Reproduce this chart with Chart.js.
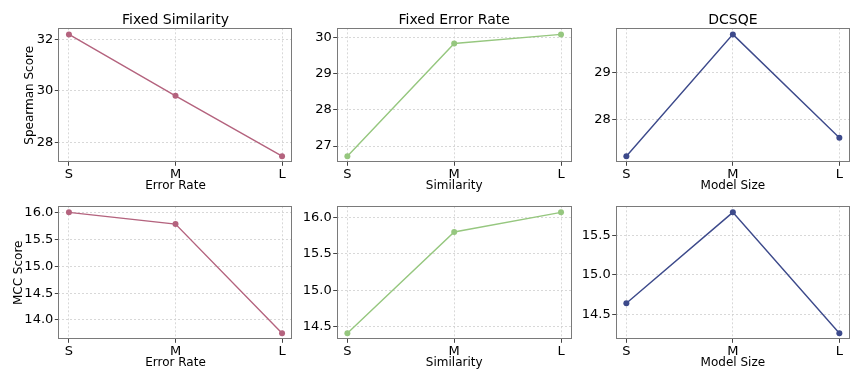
<!DOCTYPE html>
<html>
<head>
<meta charset="utf-8">
<script src="https://cdn.jsdelivr.net/npm/chart.js@4.4.0/dist/chart.umd.min.js"></script>
<style>
  html, body { margin: 0; padding: 0; background: #ffffff; }
  #wrap { position: relative; width: 863px; height: 383px; overflow: hidden; background: #fff; }
  canvas { position: absolute; }
</style>
</head>
<body>
<div id="wrap"></div>
<script>
// ---- data ----
const categories = ['S', 'M', 'L'];
const spearmanFixedSimilarity = [32.19, 29.81, 27.47];
const spearmanFixedErrorRate  = [26.72, 29.83, 30.08];
const spearmanDCSQE           = [27.23, 29.82, 27.62];
const mccFixedSimilarity = [16.01, 15.79, 13.75];
const mccFixedErrorRate  = [14.41, 15.80, 16.07];
const mccDCSQE           = [14.64, 15.79, 14.26];

const ticksSpearmanSim  = [28, 30, 32];
const ticksSpearmanErr  = [27, 28, 29, 30];
const ticksSpearmanSize = [28, 29];
const ticksMccSim  = [14.0, 14.5, 15.0, 15.5, 16.0];
const ticksMccErr  = [14.5, 15.0, 15.5, 16.0];
const ticksMccSize = [14.5, 15.0, 15.5];

const titles = ['Fixed Similarity', 'Fixed Error Rate', 'DCSQE'];
const xLabels = ['Error Rate', 'Similarity', 'Model Size'];
const yLabels = ['Spearman Score', 'MCC Score'];

// ---- styling / layout ----
const FONT = "'DejaVu Sans', 'Liberation Sans', sans-serif";
const colors = ['#b4637e', '#96c77f', '#3d4a8b'];

const cols = [
  { cx: 0,   cw: 300, plotL: 58.3,  plotR: 292.7 },
  { cx: 300, cw: 278, plotL: 336.7, plotR: 571.7 },
  { cx: 578, cw: 285, plotL: 615.7, plotR: 850.0 }
];
const rows = [
  { cy: 0,   ch: 197, plotT: 27.3, plotB: 162.3 },
  { cy: 197, ch: 186, plotT: 205.0, plotB: 339.3 }
];
const yLabelCenter = [30, 18.5];

const panelData = [
  [spearmanFixedSimilarity, spearmanFixedErrorRate, spearmanDCSQE],
  [mccFixedSimilarity, mccFixedErrorRate, mccDCSQE]
];
const panelTicks = [
  [ticksSpearmanSim, ticksSpearmanErr, ticksSpearmanSize],
  [ticksMccSim, ticksMccErr, ticksMccSize]
];

const frame = {
  id: 'frame',
  afterDraw(chart) {
    const a = chart.chartArea, ctx = chart.ctx;
    ctx.save();
    ctx.strokeStyle = '#7a7a7a';
    ctx.lineWidth = 1;
    ctx.strokeRect(Math.round(a.left) + 0.5, Math.round(a.top) + 0.5,
                   Math.round(a.right - a.left) - 1, Math.round(a.bottom - a.top) - 1);
    ctx.restore();
  }
};

const XH = 31; // x axis box height

for (let r = 0; r < 2; r++) {
  for (let c = 0; c < 3; c++) {
    const col = cols[c], row = rows[r];
    const vals = panelData[r][c];
    const tks = panelTicks[r][c];
    const dmin = Math.min(...vals), dmax = Math.max(...vals);
    const m = (dmax - dmin) * 0.05;

    const cv = document.createElement('canvas');
    cv.width = col.cw; cv.height = row.ch;
    cv.style.left = col.cx + 'px'; cv.style.top = row.cy + 'px';
    cv.style.width = col.cw + 'px'; cv.style.height = row.ch + 'px';
    document.getElementById('wrap').appendChild(cv);

    const padL = c === 0 ? (yLabelCenter[r] - 7.2) : 0;
    const yW = (col.plotL - col.cx) - padL;
    const padR = col.cx + col.cw - col.plotR;
    const padB = (row.cy + row.ch) - row.plotB - XH;
    const padT = r === 0 ? 0 : row.plotT - row.cy;

    const gridOpts = {
      color: '#cfcfcf', lineWidth: 0.8,
      drawTicks: true, tickLength: 3.5, tickColor: '#444', tickWidth: 1, tickBorderDash: []
    };

    new Chart(cv, {
      type: 'line',
      data: {
        datasets: [{
          data: vals.map((v, i) => ({ x: i, y: v })),
          borderColor: colors[c],
          backgroundColor: colors[c],
          borderWidth: 1.4,
          pointRadius: 3,
          pointBorderWidth: 0,
          pointHoverRadius: 3,
          tension: 0,
          fill: false
        }]
      },
      options: {
        responsive: false,
        animation: false,
        devicePixelRatio: 1,
        layout: { padding: { left: padL, right: padR, top: padT, bottom: padB } },
        plugins: {
          legend: { display: false },
          tooltip: { enabled: false },
          title: {
            display: r === 0,
            text: titles[c],
            fullSize: false,
            color: '#000',
            font: { family: FONT, size: 14, weight: 'normal', lineHeight: 1.2 },
            padding: { top: 11.5, bottom: 0 }
          }
        },
        scales: {
          x: {
            type: 'linear',
            min: -0.1, max: 2.1,
            afterFit(s) { s.height = XH; },
            afterBuildTicks(s) { s.ticks = categories.map((_, i) => ({ value: i })); },
            border: { display: false, dash: [2, 2] },
            grid: gridOpts,
            ticks: {
              color: '#000', padding: 1.5, maxRotation: 0,
              font: { family: FONT, size: 13 },
              callback: (v) => categories[v]
            },
            title: {
              display: true, text: xLabels[c], color: '#000',
              font: { family: FONT, size: 12, lineHeight: 1.2 },
              padding: 0
            }
          },
          y: {
            type: 'linear',
            min: dmin - m, max: dmax + m,
            afterFit(s) { s.width = yW; },
            afterBuildTicks(s) { s.ticks = tks.map(v => ({ value: v })); },
            border: { display: false, dash: [2, 2] },
            grid: gridOpts,
            ticks: {
              color: '#000', padding: 1.5,
              font: { family: FONT, size: 13 },
              callback: (v) => (r === 1 ? Number(v).toFixed(1) : String(v))
            },
            title: {
              display: c === 0, text: yLabels[r], color: '#000',
              font: { family: FONT, size: 12, lineHeight: 1.2 },
              padding: 0
            }
          }
        }
      },
      plugins: [frame]
    });
  }
}
</script>
</body>
</html>
